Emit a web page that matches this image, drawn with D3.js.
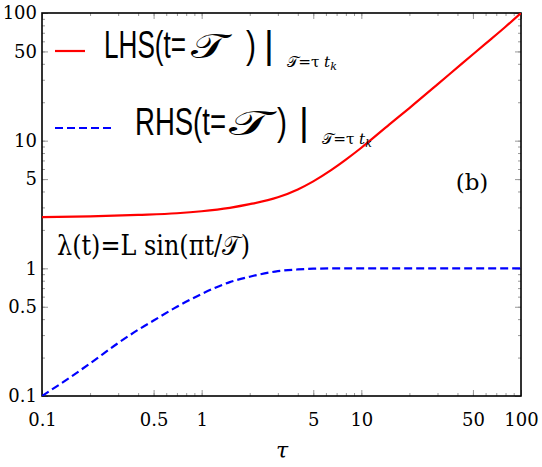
<!DOCTYPE html>
<html><head><meta charset="utf-8">
<script src="https://cdn.jsdelivr.net/npm/d3@7"></script>
<style>body{margin:0;background:#fff} svg{display:block}</style>
</head><body>
<script>
// ---- data ----
const tauLHS = [0.1, 0.2, 0.4, 0.7, 1, 1.5, 2, 3, 4, 5, 6.5, 8, 10, 15, 20, 30, 43, 60, 80, 100];
const lhsVals = [2.52, 2.55, 2.62, 2.70, 2.80, 2.98, 3.18, 3.6, 4.15, 4.8, 5.9, 7.1, 8.8, 13.4, 18.0, 27.6, 40.5, 57.5, 78, 100];
const tauRHS = [0.1, 0.15, 0.2, 0.3, 0.4, 0.5, 0.7, 1, 1.5, 2, 3, 4, 5, 7, 10, 20, 50, 100];
const rhsVals = [0.1, 0.14, 0.18, 0.26, 0.33, 0.39, 0.50, 0.63, 0.78, 0.86, 0.95, 0.98, 0.993, 1.0, 1.0, 1.0, 1.0, 1.0];
const majorTicks = [0.1, 0.5, 1, 5, 10, 50, 100];
const tickLabels = ["0.1", "0.5", "1", "5", "10", "50", "100"];
const minorTicks = [0.1,0.2,0.3,0.4,0.5,0.6,0.7,0.8,0.9,1,2,3,4,5,6,7,8,9,10,20,30,40,50,60,70,80,90,100];

const W = 542, H = 467, L = 42, R = 521, T = 13, B = 396;
const svg = d3.select("body").append("svg").attr("width", W).attr("height", H);
const x = d3.scaleLog().domain([0.1, 100]).range([L, R]);
const y = d3.scaleLog().domain([0.1, 100]).range([B, T]);
const serif = "'DejaVu Serif', serif";
const sans = "'Liberation Sans', Arial, sans-serif";
const fmt = d => tickLabels[majorTicks.indexOf(d)] || "";

function addAxis(gen, tr, vals, size, labels) {
  const g = svg.append("g").attr("transform", tr)
    .call(gen.tickValues(vals).tickSize(-size).tickPadding(labels ? 7 : 0)
      .tickFormat(labels ? fmt : () => ""));
  g.select(".domain").remove();
  g.selectAll(".tick line").attr("stroke", "#999").attr("stroke-width", 1);
  g.selectAll("text").attr("font-family", serif).attr("font-size", 18).attr("fill", "#000");
  return g;
}
// minor ticks
addAxis(d3.axisBottom(x), `translate(0,${B})`, minorTicks, 3, false);
addAxis(d3.axisTop(x), `translate(0,${T})`, minorTicks, 3, false);
addAxis(d3.axisLeft(y), `translate(${L},0)`, minorTicks, 3, false);
addAxis(d3.axisRight(y), `translate(${R},0)`, minorTicks, 3, false);
// major ticks
addAxis(d3.axisBottom(x), `translate(0,${B})`, majorTicks, 6, true).selectAll("text").attr("dy", "1.25em");
addAxis(d3.axisTop(x), `translate(0,${T})`, majorTicks, 6, false);
addAxis(d3.axisLeft(y), `translate(${L},0)`, majorTicks, 6, true).selectAll("text").attr("x", -5);
addAxis(d3.axisRight(y), `translate(${R},0)`, majorTicks, 6, false);

// frame
svg.append("rect").attr("x", L).attr("y", T).attr("width", R - L).attr("height", B - T)
  .attr("fill", "none").attr("stroke", "#000").attr("stroke-width", 1.6);

svg.append("clipPath").attr("id", "clip").append("rect")
  .attr("x", L).attr("y", T).attr("width", R - L).attr("height", B - T);

const line = d3.line().x(d => x(d[0])).y(d => y(d[1])).curve(d3.curveMonotoneX);
svg.append("path").attr("clip-path", "url(#clip)")
  .datum(tauLHS.map((t, i) => [t, lhsVals[i]]))
  .attr("d", line).attr("fill", "none").attr("stroke", "#ff0000").attr("stroke-width", 2.2);
svg.append("path").attr("clip-path", "url(#clip)")
  .datum(tauRHS.map((t, i) => [t, rhsVals[i]]))
  .attr("d", line).attr("fill", "none").attr("stroke", "#0000ff").attr("stroke-width", 2.2)
  .attr("stroke-dasharray", "8,4");

// legend
svg.append("line").attr("x1", 55).attr("x2", 85).attr("y1", 51).attr("y2", 51)
  .attr("stroke", "#ff0000").attr("stroke-width", 2.2);
svg.append("line").attr("x1", 55).attr("x2", 112).attr("y1", 128).attr("y2", 128)
  .attr("stroke", "#0000ff").attr("stroke-width", 2.2).attr("stroke-dasharray", "8,4");

function txt(s, xx, yy, size, fam, opts = {}) {
  const t = svg.append("text").attr("x", xx).attr("y", yy).attr("font-size", size)
    .attr("font-family", fam).attr("fill", "#000").text(s);
  if (opts.len) t.attr("textLength", opts.len).attr("lengthAdjust", "spacingAndGlyphs");
  if (opts.italic) t.attr("font-style", "italic");
  if (opts.anchor) t.attr("text-anchor", opts.anchor);
  return t;
}
function legendRow(label, x0, base, labLen, tX, tLen, pX, barX, subX) {
  txt(label, x0, base, 38, sans, { len: labLen });
  txt("\u{1D4AF}", tX, base, 35, serif, { len: tLen });
  txt(")", pX, base, 38, sans, { len: 10 });
  txt("|", barX, base, 38, sans);
  const s = svg.append("text").attr("x", subX).attr("y", base + 9).attr("font-size", 15)
    .attr("font-family", serif).attr("fill", "#000")
    .attr("textLength", 50).attr("lengthAdjust", "spacingAndGlyphs");
  s.append("tspan").text("\u{1D4AF}=τ ");
  s.append("tspan").attr("font-style", "italic").text("t");
  s.append("tspan").attr("font-style", "italic").attr("font-size", 11).attr("dy", 3).text("k");
}
legendRow("LHS(t=", 104, 58, 82, 191, 36, 246, 264, 287);
legendRow("RHS(t=", 135, 135, 91, 229, 42, 277, 299, 322);

txt("λ(t)=L sin(πt/\u{1D4AF})", 57, 255, 27, serif, { len: 193 });
txt("(b)", 472, 190, 23, serif, { anchor: "middle" });
txt("τ", 282, 458, 22, serif, { italic: true, anchor: "middle" });
</script>
</body></html>
